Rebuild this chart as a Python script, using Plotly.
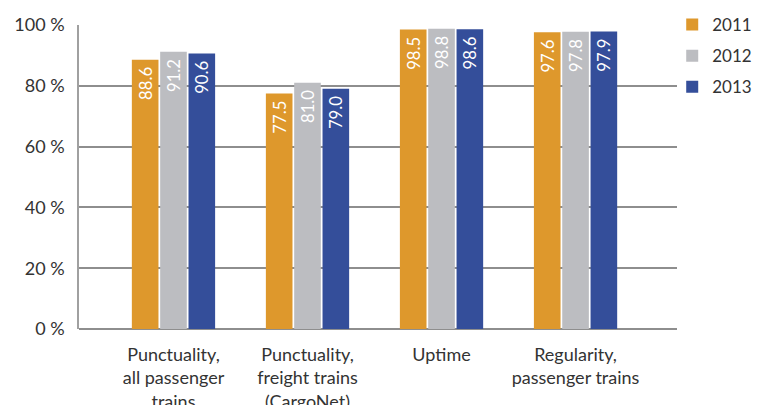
import plotly.graph_objects as go

categories = ["Punctuality,<br>all passenger<br>trains",
              "Punctuality,<br>freight trains<br>(CargoNet)",
              "Uptime",
              "Regularity,<br>passenger trains"]
years = ["2011", "2012", "2013"]
values = {
    "2011": [88.6, 77.5, 98.5, 97.6],
    "2012": [91.2, 81.0, 98.8, 97.8],
    "2013": [90.6, 79.0, 98.6, 97.9],
}
colors = {"2011": "#DE982C", "2012": "#BCBDC1", "2013": "#344E9A"}
y_ticks = [0, 20, 40, 60, 80, 100]
y_tick_text = [f"{t} %" for t in y_ticks]

FONT = "Lato"
fig = go.Figure()
for y in years:
    fig.add_trace(go.Bar(
        x=list(range(len(categories))), y=values[y], name=y,
        legendgroup=y,
        marker=dict(color=colors[y], line=dict(width=0)),
        text=[f"{v:.1f}\u00a0" for v in values[y]],
        textposition="inside", insidetextanchor="end", textangle=-90,
        textfont=dict(color="white", size=17, family=FONT),
        cliponaxis=False,
    ))

fig.update_layout(
    width=763, height=405,
    margin=dict(l=71, r=94, t=17, b=84, autoexpand=False),
    plot_bgcolor="white", paper_bgcolor="white",
    barmode="group", bargap=0.366, bargroupgap=0.06,
    font=dict(family=FONT, size=17, color="#333333"),
    showlegend=True,
    legend=dict(x=0.992, y=1.059, xanchor="left", yanchor="top",
                tracegroupgap=6, font=dict(size=17, color="#333333"),
                itemwidth=30, bgcolor="rgba(0,0,0,0)"),
)
fig.update_xaxes(
    range=[-0.705, 3.757], tickmode="array",
    tickvals=list(range(len(categories))), ticktext=categories,
    showgrid=False, zeroline=False, showline=False, ticks="",
    ticklabelstandoff=13,
    tickfont=dict(size=18, color="#333333"),
)
fig.update_yaxes(
    range=[0, 100], tickmode="array", tickvals=y_ticks, ticktext=y_tick_text,
    showgrid=True, gridcolor="#8E8E8E", gridwidth=1.5,
    zeroline=True, zerolinecolor="#8E8E8E", zerolinewidth=2,
    showline=True, linecolor="#A0A0A0", linewidth=1.5,
    ticks="", ticklabelstandoff=9,
    tickfont=dict(size=18, color="#333333"),
)
fig.write_html("out.html")
